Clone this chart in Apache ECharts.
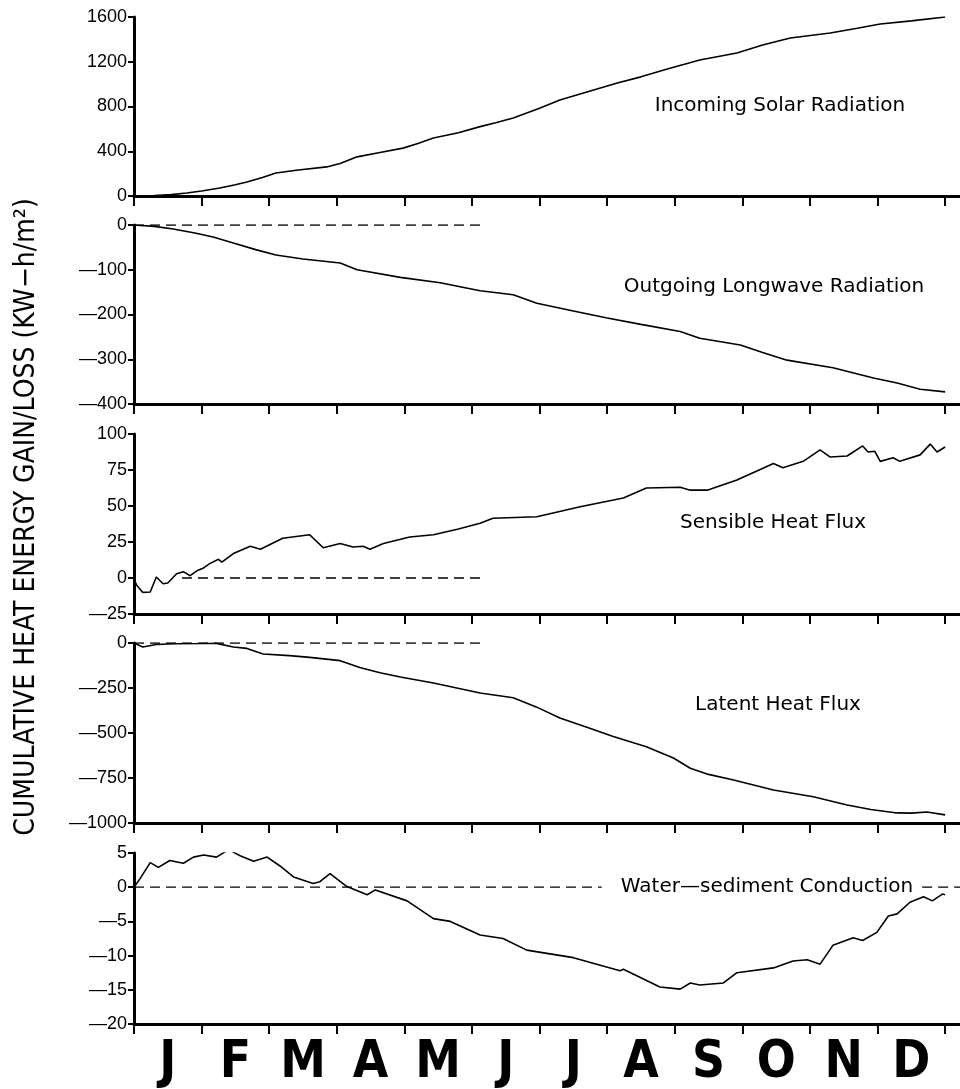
<!DOCTYPE html>
<html>
<head>
<meta charset="utf-8">
<script src="https://cdn.jsdelivr.net/npm/echarts@6/dist/echarts.min.js"></script>
<style>
html,body{margin:0;padding:0;background:#fff;}
#chart{width:960px;height:1089px;}
</style>
</head>
<body>
<div id="chart"></div>
<script>
// ---- data (x in months from Jan 1, y in KW-h/m^2) ----
const months = ['J','F','M','A','M','J','J','A','S','O','N','D'];
const monthTicks = [0,1,2,3,4,5,6,7,8,9,10,11,12];
const monthCenters = [0.5,1.5,2.5,3.5,4.5,5.5,6.5,7.5,8.5,9.5,10.5,11.5];

const solar = [[0,0],[0.3,3],[0.55,12],[0.78,27],[1.0,45],[1.27,72],[1.5,100],[1.67,125],[1.9,165],[2.1,206],[2.4,230],[2.85,260],[3.05,290],[3.3,350],[3.6,385],[3.98,428],[4.2,470],[4.43,518],[4.8,565],[5.12,620],[5.35,655],[5.61,697],[6.0,785],[6.3,858],[6.7,930],[7.15,1010],[7.5,1065],[7.89,1135],[8.37,1216],[8.92,1278],[9.3,1350],[9.71,1412],[10.3,1457],[10.7,1500],[11.04,1538],[11.5,1565],[12,1600]];

const longwave = [[0,0],[0.3,-3],[0.58,-9],[0.9,-18],[1.17,-27],[1.47,-40],[1.8,-55],[2.1,-67],[2.5,-76],[3.05,-85],[3.3,-100],[3.94,-117],[4.53,-129],[5.12,-147],[5.61,-156],[5.96,-175],[6.5,-192],[7.0,-208],[7.5,-222],[8.08,-238],[8.37,-253],[8.97,-268],[9.3,-285],[9.66,-302],[10.34,-319],[10.94,-342],[11.29,-353],[11.63,-367],[12,-373]];

const sensible = [[0,-1],[0.04,-5],[0.13,-10],[0.24,-9.7],[0.33,0.7],[0.43,-4],[0.5,-3.5],[0.63,3],[0.73,4.4],[0.83,1.6],[0.93,5],[1.03,7],[1.12,10],[1.25,13],[1.3,11],[1.47,17],[1.72,22],[1.87,20],[2.2,27.6],[2.6,30],[2.8,21],[3.05,24],[3.24,21.5],[3.39,22],[3.49,20],[3.69,24],[4.08,28.5],[4.43,30],[4.8,34],[5.12,38],[5.31,41.5],[5.96,42.5],[6.6,49.5],[7.24,55.5],[7.58,62.5],[8.08,63],[8.23,61],[8.48,61],[8.92,68],[9.46,79.5],[9.6,76.6],[9.9,81],[10.15,89],[10.3,84],[10.55,84.7],[10.78,91.7],[10.86,87.5],[10.96,88],[11.04,81],[11.23,83.5],[11.33,81],[11.63,85.5],[11.78,93],[11.88,87.5],[12,91]];

const latent = [[0,0],[0.13,-22],[0.33,-8],[0.6,-4],[1.0,-3],[1.22,-2],[1.47,-22],[1.67,-30],[1.91,-61],[2.3,-70],[2.6,-80],[3.05,-98],[3.34,-136],[3.64,-165],[3.94,-189],[4.43,-222],[5.12,-278],[5.61,-304],[5.95,-355],[6.3,-417],[6.7,-468],[7.09,-520],[7.58,-576],[7.98,-639],[8.23,-696],[8.5,-730],[8.87,-761],[9.46,-817],[10.05,-854],[10.55,-900],[10.9,-925],[11.29,-944],[11.5,-945],[11.73,-939],[12,-955]];

const conduction = [[0,0],[0.09,1.25],[0.24,3.6],[0.36,2.9],[0.53,3.9],[0.73,3.5],[0.88,4.4],[1.03,4.7],[1.22,4.4],[1.4,5.5],[1.57,4.6],[1.77,3.8],[1.97,4.4],[2.16,3.1],[2.36,1.5],[2.65,0.55],[2.75,0.8],[2.9,2.0],[3.15,0.1],[3.45,-1.1],[3.57,-0.4],[4.04,-2],[4.43,-4.6],[4.68,-5],[5.12,-7],[5.46,-7.5],[5.81,-9.2],[6.5,-10.3],[7.19,-12.2],[7.24,-12],[7.78,-14.6],[8.08,-14.9],[8.23,-14],[8.37,-14.3],[8.72,-14],[8.92,-12.5],[9.46,-11.8],[9.75,-10.8],[9.96,-10.6],[10.15,-11.25],[10.34,-8.5],[10.64,-7.4],[10.78,-7.8],[10.99,-6.6],[11.16,-4.2],[11.29,-3.9],[11.48,-2.2],[11.68,-1.4],[11.81,-2],[11.96,-1],[12,-1.1]];

// zero reference (dashed) line spans, per panel
const zeroLongwave = [[0,0],[5.12,0]];
const zeroSensible = [[0.71,0],[5.12,0]];
const zeroLatent = [[0,0],[5.15,0]];
const zeroConductionA = [[0,0],[6.92,0]];
const zeroConductionB = [[11.66,0],[12.22,0]];

const panelNames = ['Incoming Solar Radiation','Outgoing Longwave Radiation','Sensible Heat Flux','Latent Heat Flux','Water\u2014sediment Conduction'];
const yRanges = [[0,1600,400],[-400,0,100],[-25,100,25],[-1000,0,250],[-20,5,5]];
const yTitle = 'CUMULATIVE HEAT ENERGY GAIN/LOSS (KW\u2212h/m\u00B2)';

// ---- layout ----
const grids = [[17,179],[225,179],[434,180],[643,180],[853,180]];
const labelPos = [[780,106],[774,287],[773,523],[778,705],[767,887]];
const XMAX = 12.22;

const chart = echarts.init(document.getElementById('chart'), null, {renderer:'canvas'});

const tickFont = {fontFamily:'Liberation Sans, Arial, sans-serif', fontSize:18, color:'#000'};

const grid = grids.map(g => ({left:134, right:0, top:g[0], height:g[1]}));

const xAxis = grids.map((g,i) => ({
  type:'value', gridIndex:i, min:0, max:XMAX,
  axisLine:{show:true, onZero:false, lineStyle:{color:'#000', width:3}},
  axisTick:{show:true, inside:false, length:10, customValues:monthTicks, lineStyle:{color:'#000', width:2}},
  axisLabel: i === 4 ? {
    show:true, customValues:monthCenters, margin:14,
    fontFamily:"'Liberation Sans Narrow','DejaVu Sans Condensed',sans-serif",
    fontWeight:'bold', fontSize:51, color:'#000',
    formatter: v => months[Math.round(v - 0.5)]
  } : {show:false},
  splitLine:{show:false}
}));

const fmtY = v => (v < 0 ? '\u2014' + (-v) : String(v));

const yAxis = yRanges.map((r,i) => ({
  type:'value', gridIndex:i, min:r[0], max:r[1], interval:r[2],
  axisLine:{show:true, onZero:false, lineStyle:{color:'#000', width:3}},
  axisTick:{show:true, inside:false, length:6, lineStyle:{color:'#000', width:2}},
  axisLabel:Object.assign({show:true, margin:7, formatter:fmtY}, tickFont),
  splitLine:{show:false}
}));

const lineSeries = (data, i) => ({
  type:'line', xAxisIndex:i, yAxisIndex:i, data:data, showSymbol:false, symbol:'none',
  lineStyle:{color:'#000', width:1.6}, silent:true, animation:false, z:3
});
const dashSeries = (data, i) => ({
  type:'line', xAxisIndex:i, yAxisIndex:i, data:data, showSymbol:false, symbol:'none',
  lineStyle:{color:'#000', width:1.3, type:[10,6]}, silent:true, animation:false, z:2
});

const series = [
  lineSeries(solar,0),
  lineSeries(longwave,1), dashSeries(zeroLongwave,1),
  lineSeries(sensible,2), dashSeries(zeroSensible,2),
  lineSeries(latent,3), dashSeries(zeroLatent,3),
  lineSeries(conduction,4), dashSeries(zeroConductionA,4), dashSeries(zeroConductionB,4)
];

const graphic = panelNames.map((t,i) => ({
  type:'text', x:labelPos[i][0], y:labelPos[i][1], silent:true,
  style:{text:t, fontFamily:'DejaVu Sans, sans-serif', fontSize:20, fill:'#000', align:'center', verticalAlign:'middle'}
}));
graphic.push({
  type:'text', x:27, y:517, rotation:Math.PI/2, silent:true,
  style:{text:yTitle, fontFamily:"'Liberation Sans Narrow','DejaVu Sans Condensed',sans-serif", fontSize:28, fill:'#000', align:'center', verticalAlign:'middle'}
});

chart.setOption({
  backgroundColor:'#fff',
  animation:false,
  grid:grid, xAxis:xAxis, yAxis:yAxis, series:series, graphic:graphic
});
</script>
</body>
</html>
